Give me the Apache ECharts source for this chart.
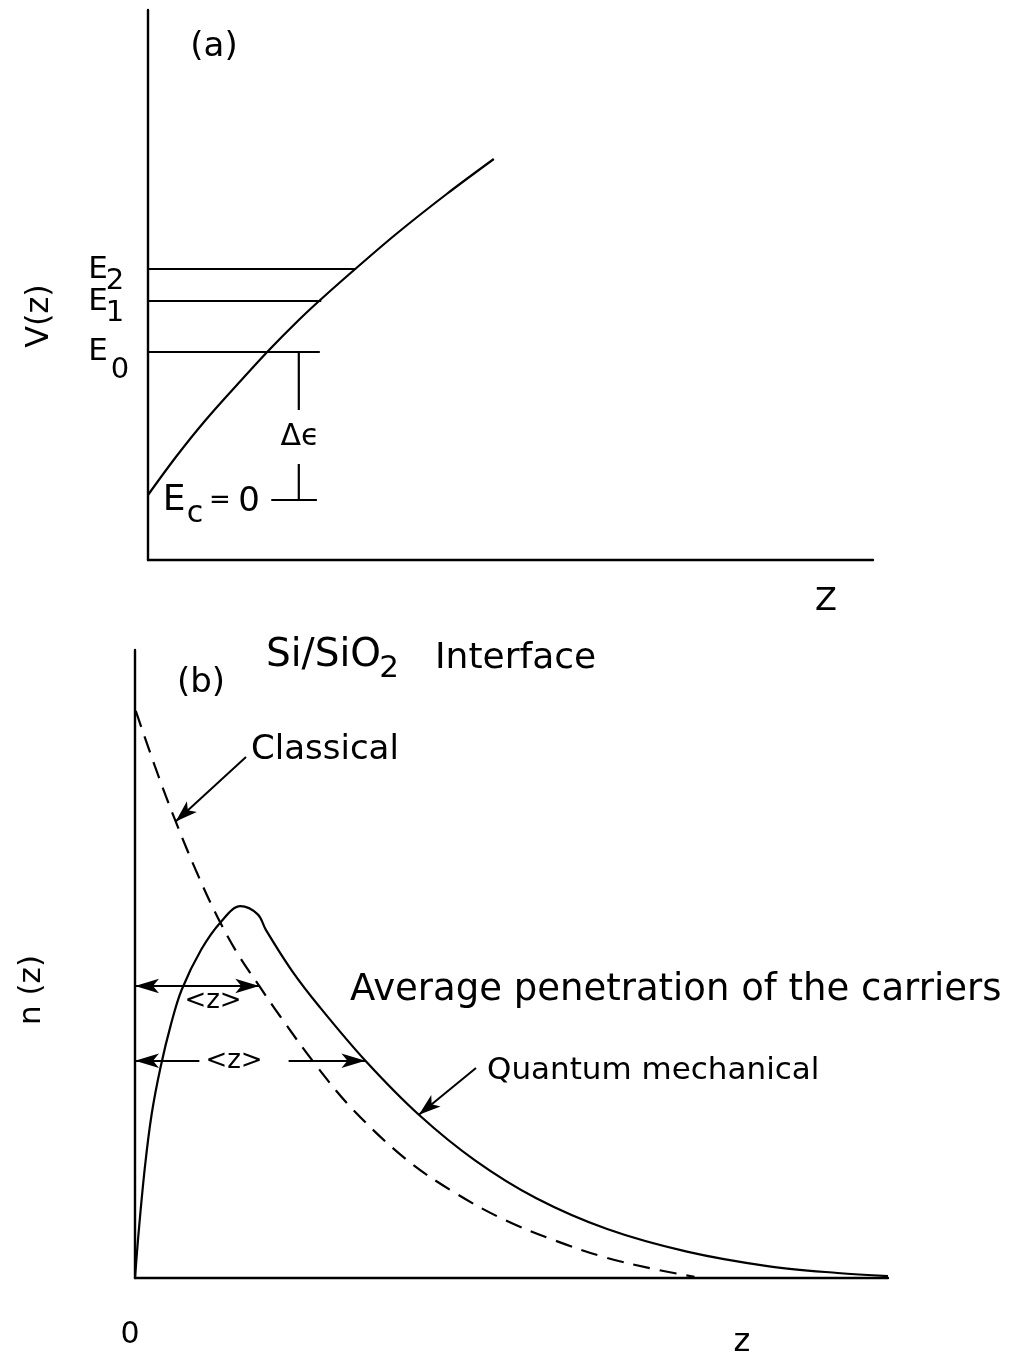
<!DOCTYPE html>
<html>
<head>
<meta charset="utf-8">
<style>
  html, body { margin: 0; padding: 0; background: #fff; }
  #chart { width: 1019px; height: 1358px; }
</style>
<script src="https://cdn.jsdelivr.net/npm/echarts@6/dist/echarts.min.js"></script>
</head>
<body>
<div id="chart"></div>
<script>
// ---- (a) potential well V(z) at the Si/SiO2 interface ----
const potZ = [0, 0.39, 0.79, 1.27, 1.67, 2.08, 2.39, 2.89, 3.44, 4.12, 4.77];
const potV = [0.1, 0.87, 1.59, 2.37, 3.0, 3.6, 4.02, 4.66, 5.34, 6.12, 6.82];

// bound sub-band levels E0, E1, E2 and how far each line is drawn
const levelNames = ['0', '1', '2'];
const levelV = [2.96, 3.98, 4.62];
const levelEndZ = [2.37, 2.39, 2.87];

// Δϵ bracket between Ec = 0 and E0
const gapZ = 2.08;
const ecTickZ = [1.70, 2.33];

// ---- (b) carrier density n(z) ----
const qmZ = [0, 0.05, 0.13, 0.22, 0.34, 0.48, 0.62, 0.88, 1.14, 1.40, 1.63, 1.74,
             2.08, 2.45, 3.06, 3.77, 4.52, 5.33, 6.27, 7.33, 8.40, 9.33, 10.0];
const qmN = [0, 0.75, 1.75, 2.6, 3.36, 4.05, 4.59, 5.23, 5.67, 5.92, 5.79, 5.54,
             4.90, 4.32, 3.46, 2.60, 1.87, 1.27, 0.78, 0.42, 0.19, 0.08, 0.03];

const clZ = [0.01, 0.30, 0.54, 0.82, 1.09, 1.37, 1.65, 1.92, 2.37, 2.88, 3.60, 4.23, 4.90, 5.57, 6.24, 6.90, 7.43];
const clN = [9.03, 8.03, 7.27, 6.46, 5.76, 5.15, 4.65, 4.18, 3.44, 2.70, 1.89, 1.37, 0.93, 0.60, 0.33, 0.14, 0.02];

// average penetration <z>: classical, quantum mechanical
const meanZ = [1.65, 3.06];
const meanN = [4.65, 3.46];

const INK = '#000';
const FONT = '"DejaVu Sans", sans-serif';
const pts = (xs, ys) => xs.map((x, i) => [x, ys[i]]);
const ink = (w) => ({ color: INK, width: w });

function axis(grid, min, max) {
  return {
    gridIndex: grid, type: 'value', min: min, max: max,
    axisLine: { show: true, onZero: false, lineStyle: ink(2.4) },
    axisTick: { show: false }, axisLabel: { show: false }, splitLine: { show: false }
  };
}

function seg(idx, data, extra) {
  return Object.assign({
    type: 'line', xAxisIndex: idx, yAxisIndex: idx, data: data,
    showSymbol: false, symbol: 'none', lineStyle: ink(2.2), silent: true
  }, extra || {});
}

const series = [];
// (a) potential, levels, Δϵ bracket
series.push(seg(0, pts(potZ, potV), { smooth: 0.35 }));
levelV.forEach((v, i) => series.push(seg(0, [[0, v], [levelEndZ[i], v]])));
series.push(seg(0, [[gapZ, levelV[0]], [gapZ, 0]]));
series.push(seg(0, [[ecTickZ[0], 0], [ecTickZ[1], 0]]));

// (b) quantum mechanical density with the two <z> arrows
const qmPointer = qmZ.indexOf(3.77);
series.push(seg(1, pts(qmZ, qmN), {
  smooth: 0.35,
  markLine: {
    silent: true, symbol: ['arrow', 'arrow'], symbolSize: [11, 24],
    label: { show: false }, lineStyle: { color: INK, width: 2.2, type: 'solid' },
    data: meanZ.map((z, i) => [{ coord: [0, meanN[i]] }, { coord: [z, meanN[i]] }])
  }
}));
// classical density (dashed) with the two callout pointers
series.push(seg(1, pts(clZ, clN), {
  smooth: 0.35, lineStyle: { color: INK, width: 2.2, type: [17, 10] },
  markLine: {
    silent: true, symbol: ['none', 'arrow'], symbolSize: [11, 22],
    label: { show: false }, lineStyle: { color: INK, width: 2, type: 'solid' },
    data: [
      [{ x: 246, y: 757 }, { coord: [clZ[2], clN[2]] }],
      [{ x: 476, y: 1068 }, { coord: [qmZ[qmPointer], qmN[qmPointer]] }]
    ]
  }
}));

function txt(text, x, y, size, opts) {
  opts = opts || {};
  const style = Object.assign({
    text: text, font: size + 'px ' + FONT, fill: INK,
    textAlign: 'center', textVerticalAlign: 'middle', align: 'center', verticalAlign: 'middle'
  }, opts.style || {});
  const el = { type: 'text', x: x, y: y, z: 100, style: style };
  if (opts.rotation) el.rotation = opts.rotation;
  return el;
}
const left = { style: { textAlign: 'left', align: 'left' } };
const levY = [352, 302, 270];
const subY = [370, 313, 281];
const subX = [120, 115, 115];

const graphic = [
  txt('(a)', 214, 47, 34),
  txt('V(z)', 40, 316, 32, { rotation: Math.PI / 2 }),
  txt('Δϵ', 300, 437, 30, { style: { backgroundColor: '#fff', padding: [12, 3] } }),
  txt('E', 174, 501, 36),
  txt('c', 195, 514, 30),
  txt('=', 220, 501, 26),
  txt('0', 249, 502, 34),
  txt('Z', 826, 602, 32),
  txt('Si/SiO', 266, 656, 39, left),
  txt('2', 389, 669, 31),
  txt('Interface', 435, 659, 36, left),
  txt('(b)', 201, 683, 34),
  txt('Classical', 251, 750, 34, left),
  txt('<z>', 213, 1001, 26),
  txt('<z>', 244, 1061, 26, { style: { backgroundColor: '#fff', padding: [3, 26, 3, 6] } }),
  txt('Average penetration of the carriers', 350, 990, 37, left),
  txt('Quantum mechanical', 487, 1071, 31, left),
  txt('n (z)', 32, 990, 31, { rotation: Math.PI / 2 }),
  txt('0', 130, 1335, 30),
  txt('z', 742, 1343, 32)
];
levelNames.forEach((n, i) => {
  graphic.push(txt('E', 98, levY[i], 31));
  graphic.push(txt(n, subX[i], subY[i], 29));
});

const chart = echarts.init(document.getElementById('chart'), null, { renderer: 'canvas' });
chart.setOption({
  animation: false,
  backgroundColor: '#fff',
  grid: [
    { left: 148, top: 10, width: 725, height: 550 },
    { left: 135, top: 650, width: 753, height: 628 }
  ],
  xAxis: [axis(0, 0, 10), axis(1, 0, 10)],
  yAxis: [axis(0, -1.2, 9.8), axis(1, 0, 10)],
  series: series,
  graphic: graphic
});
</script>
</body>
</html>
